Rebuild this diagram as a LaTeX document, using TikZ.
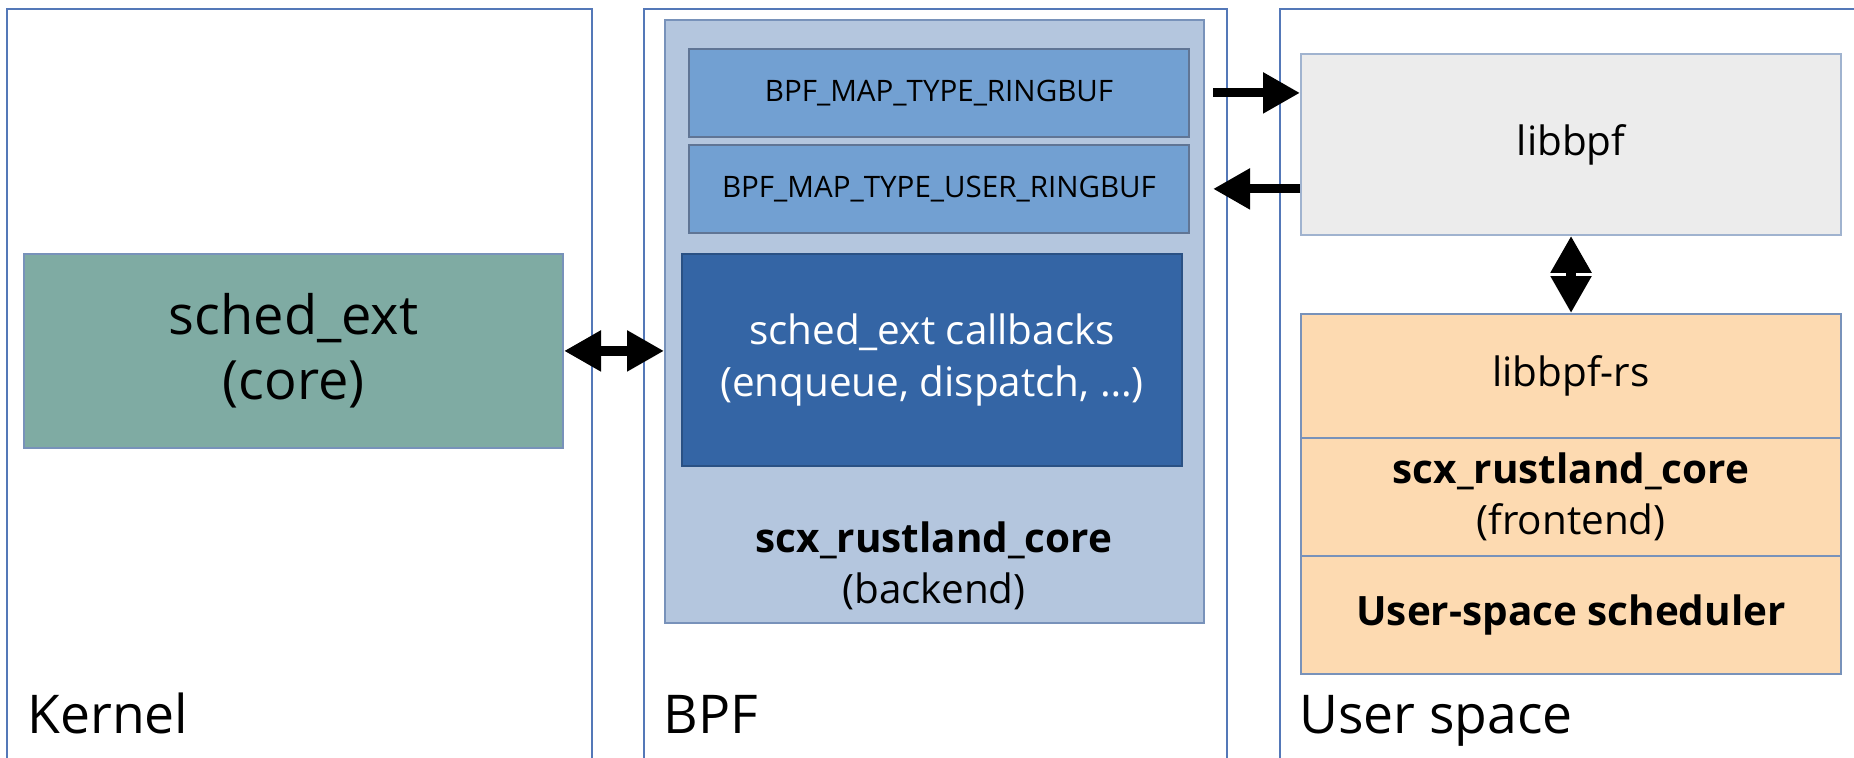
\documentclass[tikz,border=0pt]{standalone}
\usepackage{fontspec}
\setmainfont{Open Sans}
\usetikzlibrary{positioning,arrows.meta,calc}
\definecolor{panelline}{RGB}{84,120,184}
\definecolor{boxline}{RGB}{120,146,186}
\definecolor{corefill}{RGB}{127,171,163}
\definecolor{bpffill}{RGB}{180,198,222}
\definecolor{mapfill}{RGB}{114,160,210}
\definecolor{cbfill}{RGB}{52,101,165}
\definecolor{libfill}{RGB}{236,236,236}
\definecolor{userfill}{RGB}{253,218,177}

\begin{document}
\begin{tikzpicture}[x=0.01cm,y=-0.01cm,
  panel/.style={draw=panelline,line width=0.6pt,anchor=north west,inner sep=0pt},
  layerlabel/.style={anchor=base west,font=\fontsize{15.2}{18}\selectfont},
  block/.style={draw=boxline,line width=0.5pt,anchor=north west,align=center,inner sep=0pt,font=\fontsize{11.5}{14.6}\selectfont},
  mapbox/.style={block,fill=mapfill,draw=boxline!80!black,font=\fontsize{8.4}{10}\selectfont},
  oneway/.style={line width=2.6pt,-{Triangle[length=10.5pt,width=11pt]}},
  twoway/.style={line width=2.6pt,{Triangle[length=10.5pt,width=11pt]}-{Triangle[length=10.5pt,width=11pt]}}]

\useasboundingbox (0,0) rectangle (1854,758);
\clip (0,0) rectangle (1854,758);

% layers
\node[panel,minimum width=5.85cm,minimum height=7.8cm] (kernelpanel) at (6,8) {};
\node[panel,minimum width=5.83cm,minimum height=7.8cm] (bpfpanel) at (643,8) {};
\node[panel,minimum width=5.95cm,minimum height=7.8cm] (userpanel) at (1279,8) {};
\node[layerlabel] (kernellbl) at (15,733) {Kernel};
\node[layerlabel] (bpflbl) at (651,733) {BPF};
\node[layerlabel] (userlbl) at (1287,733) {User space};

% kernel
\node[block,fill=corefill,minimum width=5.39cm,minimum height=1.94cm,font=\fontsize{15.4}{18.6}\selectfont] (core) at (23,253) {sched\_ext\\(core)};

% bpf
\node[block,fill=bpffill,minimum width=5.39cm,minimum height=6.03cm] (backend) at (664,19) {};
\node[mapbox,minimum width=5.0cm,minimum height=0.88cm] (ringbuf) at (688,48) {BPF\_MAP\_TYPE\_RINGBUF};
\node[mapbox,minimum width=5.0cm,minimum height=0.88cm] (userringbuf) at (688,144) {BPF\_MAP\_TYPE\_USER\_RINGBUF};
\node[block,fill=cbfill,draw=cbfill!80!black,text=white,minimum width=5.0cm,minimum height=2.12cm] (callbacks) at (681,253) {sched\_ext callbacks\\(enqueue, dispatch, \dots)};
\node[align=center,font=\fontsize{11.5}{14.6}\selectfont] (backendlbl) at (934,566) {\textbf{scx\_rustland\_core}\\(backend)};

% user space
\node[block,fill=libfill,draw=boxline!70,minimum width=5.4cm,minimum height=1.81cm] (libbpf) at (1300,53) {libbpf};
\node[block,fill=userfill,minimum width=5.4cm,minimum height=1.24cm] (libbpfrs) at (1300,313) {libbpf-rs};
\node[block,fill=userfill,minimum width=5.4cm,minimum height=1.18cm] (frontend) at (1300,437) {\textbf{scx\_rustland\_core}\\(frontend)};
\node[block,fill=userfill,minimum width=5.4cm,minimum height=1.18cm] (usched) at (1300,555) {\textbf{User-space scheduler}};

% links
\draw[twoway] (core.east) -- (core.east -| backend.west);
\draw[oneway] ([xshift=0.08cm]backend.east |- ringbuf.east) -- (ringbuf.east -| libbpf.west);
\draw[oneway] (userringbuf.east -| libbpf.west) -- ([xshift=0.08cm]backend.east |- userringbuf.east);
\draw[twoway] (libbpf.south) -- (libbpfrs.north);
\end{tikzpicture}
\end{document}
